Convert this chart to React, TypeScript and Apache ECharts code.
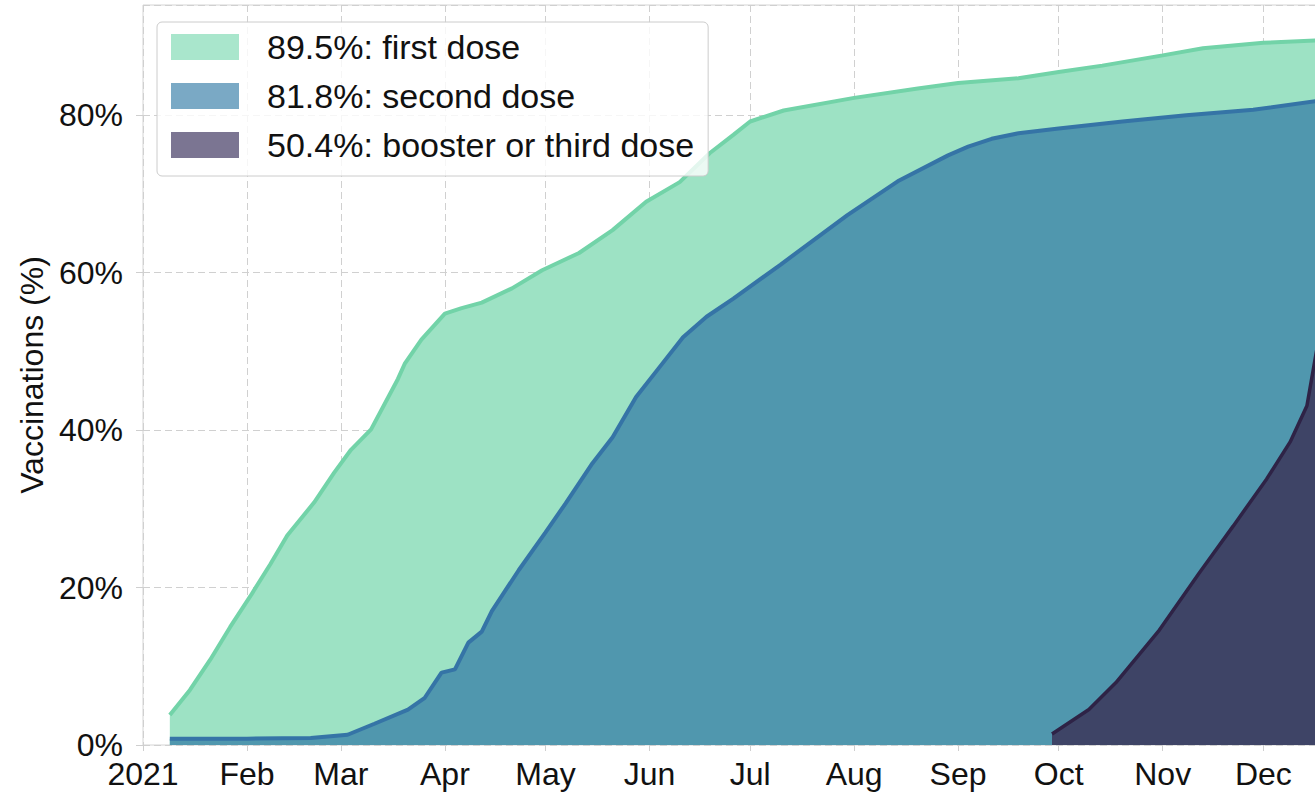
import React, { useEffect, useRef } from "react";
import * as echarts from "echarts";

// ---- data ----
const startDate = "2021-01-01";
const endDate = "2021-12-17";
const monthLabels = ["2021", "Feb", "Mar", "Apr", "May", "Jun", "Jul", "Aug", "Sep", "Oct", "Nov", "Dec"];
const yTicks = [0, 20, 40, 60, 80];

const firstDose: [string, number][] = [
  ["2021-01-09", 3.8], ["2021-01-15", 7.0], ["2021-01-21", 10.8], ["2021-01-27", 15.0],
  ["2021-02-02", 18.9], ["2021-02-08", 23.0], ["2021-02-13", 26.6], ["2021-02-21", 30.8],
  ["2021-02-27", 34.6], ["2021-03-04", 37.5], ["2021-03-10", 40.1], ["2021-03-18", 46.5],
  ["2021-03-20", 48.4], ["2021-03-25", 51.5], ["2021-04-01", 54.8], ["2021-04-06", 55.5],
  ["2021-04-12", 56.2], ["2021-04-21", 58.0], ["2021-04-30", 60.3], ["2021-05-11", 62.5],
  ["2021-05-21", 65.4], ["2021-05-31", 69.0], ["2021-06-10", 71.5], ["2021-06-19", 75.2],
  ["2021-06-26", 77.5], ["2021-07-01", 79.2], ["2021-07-11", 80.6], ["2021-08-01", 82.2],
  ["2021-08-20", 83.4], ["2021-09-01", 84.1], ["2021-09-19", 84.7], ["2021-10-01", 85.5],
  ["2021-10-14", 86.3], ["2021-11-01", 87.6], ["2021-11-13", 88.5], ["2021-12-01", 89.2],
  ["2021-12-17", 89.5],
];

const secondDose: [string, number][] = [
  ["2021-01-09", 0.8], ["2021-02-01", 0.8], ["2021-02-20", 0.9], ["2021-03-03", 1.3],
  ["2021-03-11", 2.7], ["2021-03-21", 4.5], ["2021-03-26", 6.0], ["2021-03-31", 9.2],
  ["2021-04-04", 9.6], ["2021-04-08", 13.0], ["2021-04-12", 14.4], ["2021-04-15", 17.0],
  ["2021-04-23", 22.2], ["2021-05-01", 27.0], ["2021-05-07", 30.7], ["2021-05-15", 35.8],
  ["2021-05-21", 39.1], ["2021-05-28", 44.2], ["2021-06-04", 48.0], ["2021-06-11", 51.8],
  ["2021-06-18", 54.4], ["2021-06-26", 56.7], ["2021-07-10", 61.0], ["2021-07-30", 67.3],
  ["2021-08-14", 71.6], ["2021-08-29", 74.9], ["2021-09-04", 76.0], ["2021-09-11", 77.0],
  ["2021-09-19", 77.7], ["2021-10-01", 78.3], ["2021-10-20", 79.2], ["2021-11-08", 80.0],
  ["2021-11-28", 80.7], ["2021-12-17", 81.8],
];

const boosterDose: [string, number][] = [
  ["2021-09-29", 1.4], ["2021-10-10", 4.5], ["2021-10-18", 7.9], ["2021-10-31", 14.6],
  ["2021-11-12", 21.9], ["2021-11-22", 27.8], ["2021-12-02", 33.8], ["2021-12-09", 38.5],
  ["2021-12-14", 43.1], ["2021-12-17", 50.4],
];

const seriesNames = ["first dose", "second dose", "booster or third dose"];

function buildCategories(): string[] {
  const out: string[] = [];
  const s = new Date(startDate + "T00:00:00Z").getTime();
  const e = new Date(endDate + "T00:00:00Z").getTime();
  for (let t = s; t <= e; t += 86400000) out.push(new Date(t).toISOString().slice(0, 10));
  return out;
}

const FONT = "'Liberation Sans', Arial, Helvetica, sans-serif";
const isMonthStart = (_i: number, v: string) => v.slice(8, 10) === "01";

export default function App() {
  const ref = useRef<HTMLDivElement>(null);
  useEffect(() => {
    if (!ref.current) return;
    const chart = echarts.init(ref.current, undefined, { renderer: "svg" });
    const categories = buildCategories();
    const last = (a: [string, number][]) => a[a.length - 1][1];
    const names = [
      `${last(firstDose).toFixed(1)}%: ${seriesNames[0]}`,
      `${last(secondDose).toFixed(1)}%: ${seriesNames[1]}`,
      `${last(boosterDose).toFixed(1)}%: ${seriesNames[2]}`,
    ];
    const fills = ["#9de2c4", "#5097ae", "#3e4466"];
    const lines = ["#72d3a8", "#3574a6", "#2e2346"];
    const legendColors = ["#a9e6cc", "#7aa9c5", "#7b7592"];
    const datas = [firstDose, secondDose, boosterDose];

    chart.setOption({
      animation: false,
      textStyle: { fontFamily: FONT },
      grid: {
        left: 143, top: 5, right: 3, bottom: 50,
        show: true, borderColor: "#d4d4d4", borderWidth: 1, backgroundColor: "#fff",
      },
      legend: {
        orient: "vertical",
        left: 157, top: 22,
        padding: [8, 14, 14, 14],
        itemWidth: 68, itemHeight: 26, itemGap: 15,
        icon: "rect",
        backgroundColor: "rgba(255,255,255,0.8)",
        borderColor: "#cccccc", borderWidth: 1, borderRadius: 5,
        itemStyle: { borderWidth: 0 },
        textStyle: { fontSize: 34, color: "#111", fontFamily: FONT, padding: [0, 0, 0, 23] },
        data: names.map((n, i) => ({ name: n, itemStyle: { color: legendColors[i], borderWidth: 0 } })),
      },
      xAxis: {
        type: "category",
        data: categories,
        boundaryGap: false,
        axisLine: { show: false },
        axisTick: { show: true, interval: isMonthStart, length: 6, lineStyle: { color: "#cfcfcf" } },
        axisLabel: {
          interval: isMonthStart,
          formatter: (v: string) => monthLabels[parseInt(v.slice(5, 7), 10) - 1],
          fontSize: 32, color: "#111", margin: 13, fontFamily: FONT,
        },
        splitLine: { show: true, interval: isMonthStart, lineStyle: { color: "#d0d0d0", type: [7, 4], width: 1 } },
      },
      yAxis: {
        type: "value",
        min: 0, max: 94, interval: 20,
        name: "Vaccinations (%)",
        nameLocation: "middle",
        nameGap: 95,
        nameTextStyle: { fontSize: 32, color: "#111", fontFamily: FONT },
        axisLine: { show: false },
        axisTick: { show: true, length: 7, lineStyle: { color: "#cfcfcf" } },
        axisLabel: {
          fontSize: 32, color: "#111", margin: 20, fontFamily: FONT,
          showMaxLabel: false,
          formatter: (v: number) => (yTicks.indexOf(v) >= 0 ? `${v}%` : ""),
        },
        splitLine: { show: true, lineStyle: { color: "#d0d0d0", type: [7, 4], width: 1 } },
      },
      series: datas.map((d, i) => ({
        name: names[i],
        type: "line",
        data: d,
        symbol: "none",
        smooth: false,
        lineStyle: { color: lines[i], width: i === 2 ? 3.5 : 4 },
        itemStyle: { color: lines[i] },
        areaStyle: { color: fills[i], opacity: 1 },
        z: 2 + i,
      })),
    });
    return () => chart.dispose();
  }, []);

  return (
    <div style={{ position: "fixed", left: 0, top: 0, width: 1315, height: 795, overflow: "hidden", background: "#fff" }}>
      <div ref={ref} style={{ width: 1320, height: 795 }} />
    </div>
  );
}
